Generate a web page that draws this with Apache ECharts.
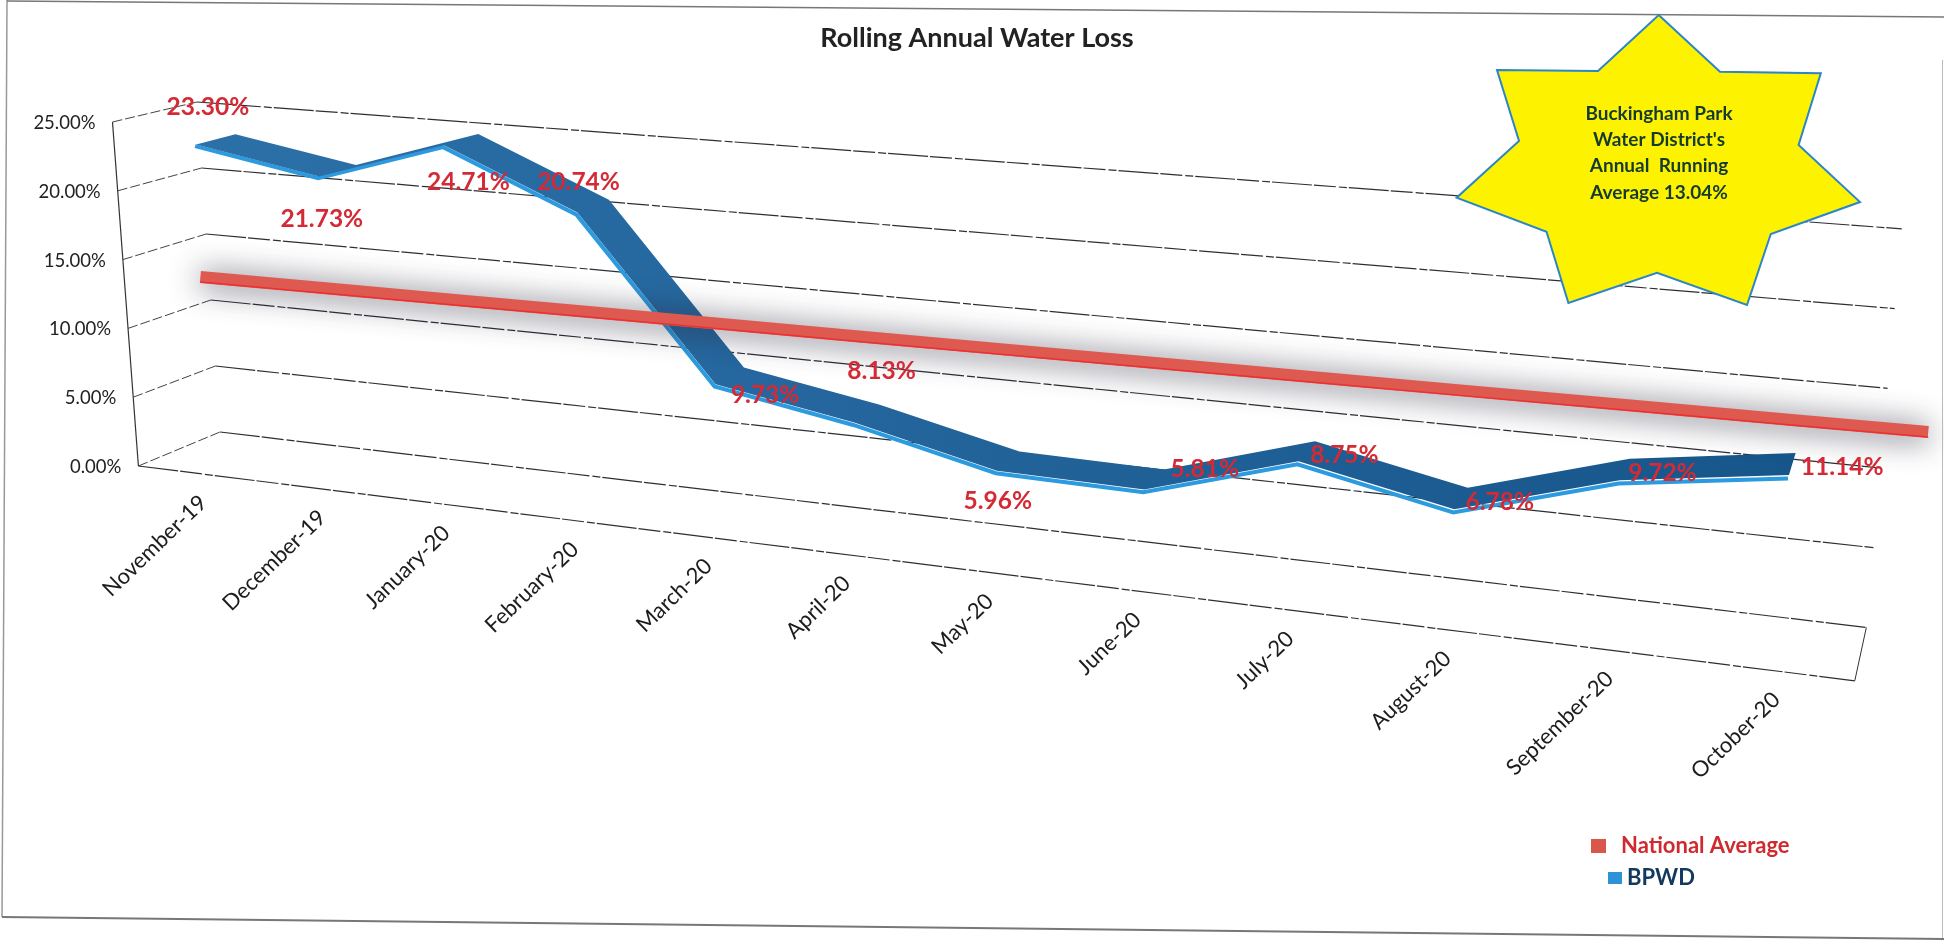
<!DOCTYPE html>
<html>
<head>
<meta charset="utf-8">
<title>Rolling Annual Water Loss</title>
<script src="https://cdn.jsdelivr.net/npm/echarts@6/dist/echarts.min.js"></script>
<style>
  html, body { margin: 0; padding: 0; background: #fff; }
  #chart { width: 1944px; height: 940px; }
</style>
</head>
<body>
<div id="chart"></div>
<script>
const months = ['November-19', 'December-19', 'January-20', 'February-20', 'March-20', 'April-20',
  'May-20', 'June-20', 'July-20', 'August-20', 'September-20', 'October-20']
const bpwdValues = [23.30, 21.73, 24.71, 20.74, 9.73, 8.13, 5.96, 5.81, 8.75, 6.78, 9.72, 11.14]
const nationalValues = [13.5, 13.5, 13.5, 13.5, 13.5, 13.5, 13.5, 13.5, 13.5, 13.5, 13.5, 13.5]
const yTicks = [0, 5, 10, 15, 20, 25]
const starLines = ['Buckingham Park', "Water District's", 'Annual  Running', 'Average 13.04%']

// the data labels were placed by hand in the original, offset from the ribbon in px
const labelOffsets = [[-7, -33], [-15, 48], [8, 42], [-14, -24], [36, 19], [15, -43],
  [-10, 40], [51, -11], [38, 3], [39, 3], [38, 3], [50, 3]]

const FONT = 'Lato, "Open Sans", sans-serif'

// corners of the 3D box as the scan shows them: front/back, left/right, 0%/25%
const box = {
  fl0: [138.4, 466], fl1: [112.5, 122], fr0: [1856.5, 681], fr1: [1895, 267],
  bl0: [220, 432], bl1: [197, 102], br0: [1868, 627.6], br1: [1903.5, 229]
}

function mix (a, b, t) {
  return [a[0] + (b[0] - a[0]) * t, a[1] + (b[1] - a[1]) * t]
}

// flat grid pixel -> position on the tilted chart, d is the depth (0 front, 1 back)
function project (pt, cs, d) {
  const u = (pt[0] - cs.x) / cs.width
  const w = (cs.y + cs.height - pt[1]) / cs.height
  const s = 0.799 * u + 0.2 * u * u
  const left = mix(mix(box.fl0, box.fl1, w), mix(box.bl0, box.bl1, w), d)
  const right = mix(mix(box.fr0, box.fr1, w), mix(box.br0, box.br1, w), d)
  return mix(left, right, s)
}

function flatEdge (api, cs, v, side) {
  return [side ? cs.x + cs.width : cs.x, api.coord([0, v])[1]]
}

const dashed = { stroke: '#2b2f36', lineWidth: 1.2, lineDash: [40, 2, 22, 3, 8, 2], fill: null }

function renderGrid (params, api) {
  const cs = params.coordSys
  const v = api.value(0)
  const leftPt = flatEdge(api, cs, v, 0)
  const rightPt = flatEdge(api, cs, v, 1)
  const children = [
    { type: 'polyline', shape: { points: [project(leftPt, cs, 1), project(rightPt, cs, 1)] }, style: dashed },
    { type: 'polyline', shape: { points: [project(leftPt, cs, 0), project(leftPt, cs, 1)] },
      style: { stroke: '#444', lineWidth: 1, lineDash: [10, 3], fill: null } },
    { type: 'text', x: project(leftPt, cs, 0)[0] - 17, y: project(leftPt, cs, 0)[1] + 1,
      style: { text: v.toFixed(2) + '%', font: '18.5px ' + FONT, fill: '#222', align: 'right', verticalAlign: 'middle' } }
  ]
  if (v === 0) {
    children.push({ type: 'polyline', shape: { points: [project(leftPt, cs, 0), project(rightPt, cs, 0)] }, style: dashed })
    children.push({ type: 'polyline', shape: { points: [project(rightPt, cs, 0), project(rightPt, cs, 1)] },
      style: { stroke: '#333', lineWidth: 1, fill: null } })
    children.push({ type: 'polyline', shape: { points: [project(leftPt, cs, 0), project(flatEdge(api, cs, 25, 0), cs, 0)] },
      style: { stroke: '#333', lineWidth: 1.2, fill: null } })
  }
  return { type: 'group', children: children }
}

function renderMonth (params, api) {
  const cs = params.coordSys
  const p = project(api.coord([api.value(0), 0]), cs, 0)
  return {
    type: 'text',
    x: p[0] + 7,
    y: p[1] + 26,
    rotation: 44 * Math.PI / 180,
    style: { text: months[api.value(0)], font: '22px ' + FONT, fill: '#1c1c1c', align: 'right', verticalAlign: 'middle' }
  }
}

function renderBpwd (params, api) {
  if (params.dataIndex !== 0) return
  const cs = params.coordSys
  const front = []
  const back = []
  const lip = []
  bpwdValues.forEach(function (v, i) {
    const pt = api.coord([i, v])
    const f = project(pt, cs, 0.27)
    front.push(f)
    back.push(project(pt, cs, 0.75))
    lip.push([f[0] - 1, f[1] + 1.5 + 2 * i / 11])
  })
  return {
    type: 'group',
    children: [
      { type: 'polyline', shape: { points: lip },
        style: { stroke: '#2b9ade', lineWidth: 4, fill: null, lineJoin: 'miter' } },
      { type: 'polygon', shape: { points: front.concat(back.slice().reverse()) },
        style: { fill: new echarts.graphic.LinearGradient(0, 0, 1, 0, [
          { offset: 0, color: '#2c70a8' },
          { offset: 1, color: '#17568b' }
        ]) } }
    ]
  }
}

function renderNational (params, api) {
  if (params.dataIndex !== 0) return
  const cs = params.coordSys
  const pts = []
  const depth = function (px) {
    const u = (px - cs.x) / cs.width
    return 0.3 + 0.35 * u
  }
  const n = nationalValues.length
  const a = api.coord([n - 2, nationalValues[n - 1]])
  const b = api.coord([n - 1, nationalValues[n - 1]])
  const band = b[0] - a[0]
  // the ribbon runs slightly past the first and last month in the original
  const start = api.coord([0, nationalValues[0]])
  start[0] -= band * 0.07
  pts.push(project(start, cs, depth(start[0])))
  nationalValues.forEach(function (v, i) {
    const pt = api.coord([i, v])
    pts.push(project(pt, cs, depth(pt[0])))
  })
  const end = [b[0] + band * 0.77, b[1]]
  pts.push(project(end, cs, depth(end[0])))
  return {
    type: 'group',
    children: [
      { type: 'polyline', shape: { points: pts },
        style: { stroke: '#de5a50', lineWidth: 12, fill: null, shadowBlur: 30, shadowColor: 'rgba(40,40,60,0.85)', shadowOffsetY: 2 } },
      { type: 'polyline', shape: { points: pts.map(function (p) { return [p[0], p[1] + 5] }) },
        style: { stroke: '#ee2f32', lineWidth: 1.5, fill: null } }
    ]
  }
}

function renderLabel (params, api) {
  const cs = params.coordSys
  const i = api.value(0)
  const v = api.value(1)
  const p = project(api.coord([i, v]), cs, 0.5)
  return {
    type: 'text',
    x: p[0] + labelOffsets[i][0],
    y: p[1] + labelOffsets[i][1],
    style: { text: v.toFixed(2) + '%', font: 'bold 24.5px ' + FONT, fill: '#d42a35', align: 'center', verticalAlign: 'middle' }
  }
}

function customSeries (name, data, renderItem, z, color) {
  return {
    type: 'custom',
    name: name,
    data: data,
    renderItem: renderItem,
    encode: { x: 0, y: 1 },
    itemStyle: { color: color },
    clip: false,
    silent: true,
    z: z
  }
}

const pairs = function (values) {
  return values.map(function (v, i) { return [i, v] })
}

const option = {
  animation: false,
  backgroundColor: '#fff',
  title: {
    text: 'Rolling Annual Water Loss',
    left: 972,
    top: 20,
    textAlign: 'center',
    textStyle: { fontFamily: FONT, fontSize: 27, fontWeight: 'bold', color: '#222' }
  },
  legend: [{
    data: ['National Average'],
    left: 1586,
    top: 830,
    icon: 'rect',
    itemWidth: 15,
    itemHeight: 14,
    itemGap: 15,
    textStyle: { fontFamily: FONT, fontSize: 22, fontWeight: 'bold', color: '#cf2a2f', padding: [0, 0, 0, 10] }
  }, {
    data: ['BPWD'],
    left: 1603,
    top: 862,
    icon: 'rect',
    itemWidth: 14,
    itemHeight: 12,
    textStyle: { fontFamily: FONT, fontSize: 22, fontWeight: 'bold', color: '#12395e', padding: [0, 0, 0, 0] }
  }],
  grid: { left: 100, right: 100, top: 100, bottom: 100 },
  xAxis: { type: 'category', data: months, show: false },
  yAxis: { type: 'value', min: 0, max: 25, interval: 5, show: false },
  series: [
    customSeries('grid', yTicks.map(function (v) { return [v] }), renderGrid, 1),
    customSeries('months', months.map(function (m, i) { return [i] }), renderMonth, 1),
    customSeries('BPWD', pairs(bpwdValues), renderBpwd, 2, '#2b93d6'),
    customSeries('National Average', pairs(nationalValues), renderNational, 3, '#d8564c'),
    customSeries('labels', pairs(bpwdValues), renderLabel, 4)
  ],
  graphic: [
    { type: 'polyline', silent: true, z: 6, shape: { points: [[2, 917], [7, 0]] }, style: { stroke: '#999', lineWidth: 1.5, fill: null } },
    { type: 'polyline', silent: true, z: 6, shape: { points: [[7, 1], [1944, 17]] }, style: { stroke: '#777', lineWidth: 1.5, fill: null } },
    { type: 'polyline', silent: true, z: 6, shape: { points: [[2, 917], [1944, 939]] }, style: { stroke: '#777', lineWidth: 2, fill: null } },
    { type: 'polyline', silent: true, z: 6, shape: { points: [[1942.5, 60], [1942.5, 938]] }, style: { stroke: '#bbb', lineWidth: 1, fill: null } },
    {
      type: 'polygon',
      silent: true,
      z: 10,
      shape: {
        points: [[1658.7, 15], [1720, 71.7], [1820.8, 73.3], [1798.6, 145], [1860, 202], [1770.8, 234], [1747, 305],
          [1657, 272.7], [1568.4, 303], [1546.5, 231.7], [1456.6, 197.7], [1519, 141], [1497, 70], [1598, 71]]
      },
      style: { fill: '#fdf200', stroke: '#2a86c8', lineWidth: 2 }
    },
    {
      type: 'text',
      silent: true,
      z: 11,
      x: 1659,
      y: 153,
      style: {
        text: starLines.join('\n'),
        font: 'bold 19px ' + FONT,
        lineHeight: 26.4,
        fill: '#143a32',
        align: 'center',
        verticalAlign: 'middle'
      }
    }
  ]
}

const chart = echarts.init(document.getElementById('chart'))
chart.setOption(option)
</script>
</body>
</html>
